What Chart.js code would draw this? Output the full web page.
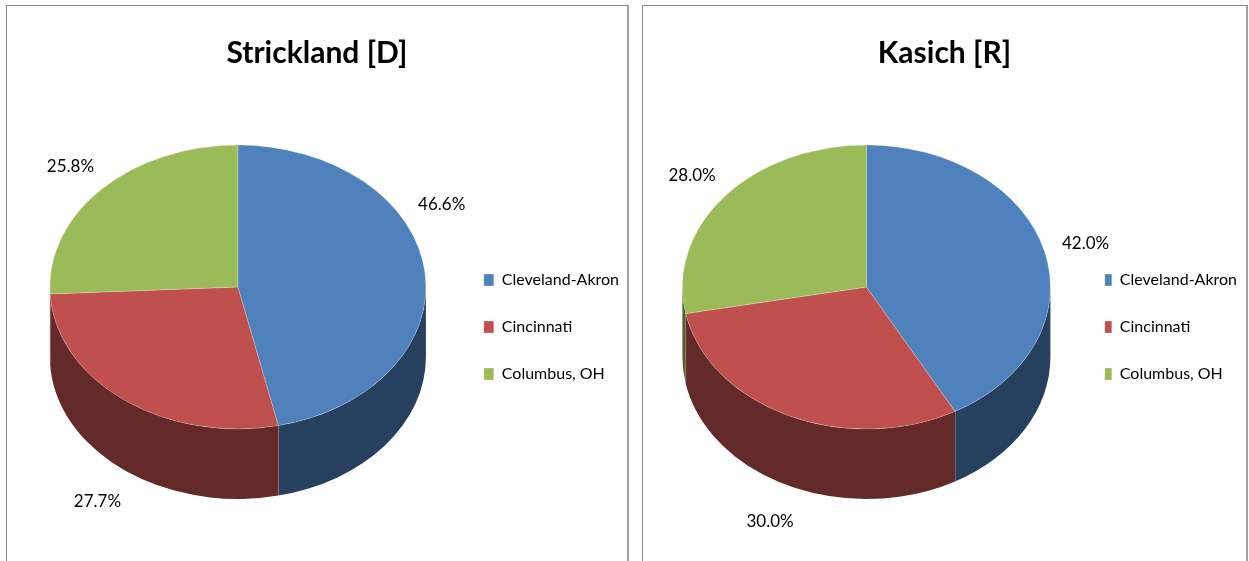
<!DOCTYPE html>
<html>
<head>
<meta charset="utf-8">
<title>Strickland / Kasich</title>
<script src="https://cdn.jsdelivr.net/npm/chart.js"></script>
<style>
  body { margin: 0; background: #fff; overflow: hidden; }
  .panel {
    position: absolute;
    top: 5px;
    height: 600px;
    border-left: 1px solid #8b8b8b;
    border-top: 1px solid #8b8b8b;
    border-right: 2px solid #a2a2a2;
    background: #fff;
  }
  .panel canvas { display: block; }
</style>
</head>
<body>
<div class="panel" style="left:6px;width:620px"><canvas id="strickland-chart" width="620" height="556"></canvas></div>
<div class="panel" style="left:642px;width:603px"><canvas id="kasich-chart" width="603" height="556"></canvas></div>

<script>
// data
let categories = ['Cleveland-Akron', 'Cincinnati', 'Columbus, OH']
let strickland_values = [46.6, 27.7, 25.8]
let kasich_values = [42.0, 30.0, 28.0]

let top_colors = ['#4F81BD', '#C0504D', '#9BBB59']
let side_colors = ['#27405F', '#632A29', '#4F6228']

// fake 3d: side walls under the slices, then squash the top face
let pie3d = {
  id: 'pie3d',
  beforeDatasetsDraw(chart, args, o) {
    let ctx = chart.ctx
    let arcs = chart.getDatasetMeta(0).data
    if (!arcs.length) return
    let cx = arcs[0].x, cy = arcs[0].y
    arcs.forEach((arc, i) => {
      let r = arc.outerRadius
      let a1 = Math.max(arc.startAngle, 0)
      let a2 = Math.min(arc.endAngle, Math.PI)
      if (a2 <= a1) return
      ctx.beginPath()
      ctx.ellipse(cx, cy, r, r * o.tilt, 0, a1, a2)
      ctx.lineTo(cx + r * Math.cos(a2), cy + r * o.tilt * Math.sin(a2) + o.depth)
      ctx.ellipse(cx, cy + o.depth, r, r * o.tilt, 0, a2, a1, true)
      ctx.closePath()
      ctx.fillStyle = o.sideColors[i]
      ctx.fill()
      // light seam where two slices meet on the wall
      if (arc.endAngle > 0 && arc.endAngle < Math.PI) {
        let x = cx + r * Math.cos(arc.endAngle)
        let y = cy + r * o.tilt * Math.sin(arc.endAngle)
        ctx.beginPath()
        ctx.moveTo(x, y)
        ctx.lineTo(x, y + o.depth)
        ctx.strokeStyle = 'rgba(255,200,200,0.45)'
        ctx.lineWidth = 1
        ctx.stroke()
      }
    })
    ctx.save()
    ctx.translate(cx, cy)
    ctx.scale(1, o.tilt)
    ctx.translate(-cx, -cy)
  },
  afterDatasetsDraw(chart, args, o) {
    let ctx = chart.ctx
    ctx.restore()
    let meta = chart.getDatasetMeta(0)
    let values = chart.data.datasets[0].data
    ctx.save()
    ctx.font = '17px Lato'
    ctx.fillStyle = '#000'
    ctx.textAlign = 'center'
    ctx.textBaseline = 'middle'
    meta.data.forEach((arc, i) => {
      let a = (arc.startAngle + arc.endAngle) / 2 + (o.labelShift[i] || 0) * Math.PI / 180
      let rr = arc.outerRadius * o.labelDist
      let x = arc.x + Math.cos(a) * rr
      let y = arc.y + Math.sin(a) * rr * o.tilt
      if (Math.sin(a) > 0) y += o.depth + 6
      ctx.fillText(values[i].toFixed(1) + '%', x, y)
    })
    ctx.restore()
  }
}

// one-line arrays so each legend row uses the font lineHeight (taller rows, small side padding)
function legendLabels(chart) {
  let items = Chart.overrides.pie.plugins.legend.labels.generateLabels(chart)
  items.forEach(item => { item.text = [item.text] })
  return items
}

function makePie(el, title, values, radius, tilt, pad, boxWidth, labelShift) {
  return new Chart(el, {
    type: 'pie',
    plugins: [pie3d],
    data: {
      labels: categories,
      datasets: [{
        data: values,
        backgroundColor: top_colors,
        borderColor: 'rgba(255,255,255,0.25)',
        borderWidth: 1,
        radius: radius,
        clip: false
      }]
    },
    options: {
      responsive: false,
      animation: false,
      events: [],
      layout: { padding: pad },
      plugins: {
        title: {
          display: true,
          text: title,
          color: '#000',
          font: { family: 'Lato', size: 30, weight: 'bold', lineHeight: 1.2 },
          padding: { top: 29, bottom: 0 }
        },
        legend: {
          position: 'right',
          align: 'center',
          fullSize: false,
          title: { display: true, text: '', font: { size: 10, lineHeight: 1 }, padding: { top: 86, bottom: 0 } },
          labels: {
            boxWidth: boxWidth,
            boxHeight: 12,
            padding: 15,
            color: '#000',
            font: { family: 'Lato', size: 16, lineHeight: 2 },
            generateLabels: legendLabels
          }
        },
        tooltip: { enabled: false },
        pie3d: {
          tilt: tilt,
          depth: 70,
          sideColors: side_colors,
          labelDist: 1.23,
          labelShift: labelShift
        }
      }
    }
  })
}

let strickland_chart = makePie(document.querySelector('#strickland-chart'), 'Strickland [D]',
  strickland_values, 188, 0.755, { left: -2, right: -2, top: 0, bottom: 59 }, 10, [-22, 0, 0])
let kasich_chart = makePie(document.querySelector('#kasich-chart'), 'Kasich [R]',
  kasich_values, 184, 0.772, { left: -1, right: -1, top: 0, bottom: 59 }, 7, [0, 0, 0])
</script>
</body>
</html>
